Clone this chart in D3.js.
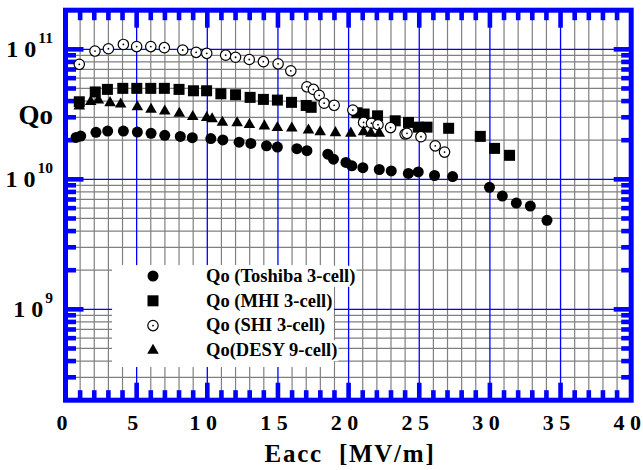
<!DOCTYPE html>
<html>
<head>
<meta charset="utf-8">
<script src="https://cdn.jsdelivr.net/npm/d3@7"></script>
<style>
  body { margin: 0; background: #fff; }
  text { font-family: "Liberation Serif", "Times New Roman", serif; font-weight: bold; fill: #000; }
</style>
</head>
<body>
<svg id="chart" width="643" height="470"></svg>
<script>
// Qo vs Eacc, four cavity series
var toshibaE = [0.71, 1.04, 2.12, 2.95, 4.06, 5.05, 6.02, 6.99, 8.09, 8.94, 10.25, 11.1, 12.25, 13.08, 14.19, 14.96, 16.34, 17.05, 18.53, 18.93, 19.81, 20.23, 21.01, 22.17, 23.02, 24.23, 24.93, 26.08, 27.36, 29.97, 30.88, 31.87, 32.86, 34.04]
var toshibaQ = [2.10e10, 2.15e10, 2.30e10, 2.35e10, 2.35e10, 2.31e10, 2.26e10, 2.18e10, 2.14e10, 2.09e10, 2.06e10, 2.01e10, 1.93e10, 1.89e10, 1.81e10, 1.77e10, 1.72e10, 1.66e10, 1.56e10, 1.43e10, 1.35e10, 1.27e10, 1.23e10, 1.19e10, 1.16e10, 1.11e10, 1.14e10, 1.07e10, 1.05e10, 8.68e9, 7.44e9, 6.57e9, 6.23e9, 4.84e9]

var mhiE = [0.94, 2.07, 2.93, 4.02, 5.01, 6.0, 6.96, 8.0, 9.02, 9.95, 10.96, 12.0, 13.03, 13.97, 14.96, 15.96, 17.0, 17.35, 20.59, 21.1, 22.05, 23.3, 24.24, 24.93, 25.55, 27.08, 29.32, 30.33, 31.39]
var mhiQ = [3.95e10, 4.70e10, 4.92e10, 5.01e10, 5.01e10, 5.01e10, 5.01e10, 4.92e10, 4.80e10, 4.80e10, 4.55e10, 4.47e10, 4.27e10, 4.12e10, 4.07e10, 3.91e10, 3.70e10, 3.58e10, 3.25e10, 3.18e10, 3.08e10, 2.82e10, 2.74e10, 2.52e10, 2.52e10, 2.47e10, 2.14e10, 1.73e10, 1.53e10]

var shiE = [0.94, 2.05, 3.0, 4.06, 5.0, 6.0, 6.96, 8.26, 9.21, 9.96, 11.3, 12.0, 12.97, 13.97, 15.01, 15.91, 17.05, 17.51, 17.92, 18.27, 18.98, 20.3, 21.06, 21.62, 22.08, 22.97, 24.0, 24.13, 25.12, 26.13, 26.79]
var shiQ = [7.67e10, 9.70e10, 1.01e11, 1.09e11, 1.05e11, 1.05e11, 1.03e11, 9.88e10, 9.48e10, 9.31e10, 9.01e10, 8.69e10, 8.35e10, 8.04e10, 7.74e10, 6.84e10, 5.15e10, 4.92e10, 4.43e10, 3.85e10, 3.71e10, 3.41e10, 2.74e10, 2.70e10, 2.63e10, 2.50e10, 2.23e10, 2.26e10, 2.13e10, 1.81e10, 1.62e10]

var desyE = [0.94, 1.75, 2.29, 3.12, 3.87, 5.05, 6.02, 6.99, 8.02, 8.97, 9.96, 10.34, 11.07, 12.11, 12.98, 14.04, 14.96, 15.98, 17.16, 17.99, 19.07, 20.16, 21.06, 21.58, 22.17]
var desyQ = [3.66e10, 3.95e10, 4.07e10, 3.88e10, 3.79e10, 3.61e10, 3.45e10, 3.35e10, 3.22e10, 3.03e10, 2.98e10, 2.91e10, 2.74e10, 2.72e10, 2.63e10, 2.57e10, 2.50e10, 2.47e10, 2.39e10, 2.32e10, 2.28e10, 2.26e10, 2.32e10, 2.26e10, 2.26e10]

var legendNames = ['Qo (Toshiba 3-cell)', 'Qo (MHI 3-cell)', 'Qo (SHI 3-cell)', 'Qo(DESY 9-cell)']
var xTickValues = [0, 5, 10, 15, 20, 25, 30, 35, 40]
var xTickLabels = ['0', '5', '1 0', '1 5', '2 0', '2 5', '3 0', '3 5', '4 0']
var yDecades = [1e9, 1e10, 1e11]
var yExponents = ['9', '10', '11']

var blue = '#0000ff'
var grey = '#808080'

var svg = d3.select('#chart')

var x = d3.scaleLinear().domain([0, 40]).range([66, 631.2])
var y = d3.scaleLog().domain([2e8, 2e11]).range([400.2, 10.2])

var pLeft = x.range()[0], pRight = x.range()[1]
var pTop = y.range()[1], pBottom = y.range()[0]

// minor / major tick values
var xMinor = d3.range(1, 40).filter(v => v % 5 !== 0)
var xMajor = d3.range(5, 40, 5)
var yMinor = []
;[8, 9, 10, 11].forEach(p => {
  d3.range(2, 10).forEach(m => {
    var v = m * Math.pow(10, p)
    if (v > 2e8 && v < 2e11) yMinor.push(v)
  })
})

// grid
var grid = svg.append('g')
grid.selectAll('.vmin').data(xMinor).enter().append('line')
  .attr('x1', d => x(d)).attr('x2', d => x(d)).attr('y1', pTop).attr('y2', pBottom)
  .attr('stroke', grey).attr('stroke-width', 1.2)
grid.selectAll('.hmin').data(yMinor).enter().append('line')
  .attr('y1', d => y(d)).attr('y2', d => y(d)).attr('x1', pLeft).attr('x2', pRight)
  .attr('stroke', grey).attr('stroke-width', 1.2)
grid.selectAll('.vmaj').data(xMajor).enter().append('line')
  .attr('x1', d => x(d)).attr('x2', d => x(d)).attr('y1', pTop).attr('y2', pBottom)
  .attr('stroke', blue).attr('stroke-width', 1.3)
grid.selectAll('.hmaj').data(yDecades).enter().append('line')
  .attr('y1', d => y(d)).attr('y2', d => y(d)).attr('x1', pLeft).attr('x2', pRight)
  .attr('stroke', blue).attr('stroke-width', 1.3)

// legend background
svg.append('rect')
  .attr('x', x(3.26)).attr('y', y(2.19e9))
  .attr('width', x(18.95) - x(3.26)).attr('height', y(3.6e8) - y(2.19e9))
  .attr('fill', '#fff')

// ticks on the frame
var ticks = svg.append('g').attr('stroke', blue).attr('stroke-width', 4.6)
var minorLen = 10, majorLen = 17.5
var xAll = d3.range(1, 40)
ticks.selectAll('.bt').data(xAll).enter().append('line')
  .attr('x1', d => x(d)).attr('x2', d => x(d))
  .attr('y1', pBottom).attr('y2', d => pBottom - (d % 5 === 0 ? majorLen : minorLen))
ticks.selectAll('.tt').data(xAll).enter().append('line')
  .attr('x1', d => x(d)).attr('x2', d => x(d))
  .attr('y1', pTop).attr('y2', d => pTop + (d % 5 === 0 ? majorLen : minorLen))
var yAll = yMinor.concat(yDecades)
var isMajor = d => yDecades.indexOf(d) >= 0
ticks.selectAll('.lt').data(yAll).enter().append('line')
  .attr('y1', d => y(d)).attr('y2', d => y(d))
  .attr('x1', pLeft).attr('x2', d => pLeft + (isMajor(d) ? majorLen : minorLen))
ticks.selectAll('.rt').data(yAll).enter().append('line')
  .attr('y1', d => y(d)).attr('y2', d => y(d))
  .attr('x1', pRight).attr('x2', d => pRight - (isMajor(d) ? majorLen : minorLen))

// frame
svg.append('rect')
  .attr('x', pLeft - 0.5).attr('y', pTop).attr('width', pRight - pLeft + 0.5).attr('height', pBottom - pTop)
  .attr('fill', 'none').attr('stroke', blue).attr('stroke-width', 5)

// x tick labels
svg.append('g').selectAll('text').data(xTickValues).enter().append('text')
  .attr('x', d => x(d) - 4).attr('y', 430)
  .attr('text-anchor', 'middle').attr('font-size', 22)
  .text((d, i) => xTickLabels[i])

// y tick labels 10^n
var yl = svg.append('g').selectAll('text').data(yDecades).enter().append('text')
  .attr('x', 53).attr('y', d => y(d) + 8)
  .attr('text-anchor', 'end').attr('font-size', 24)
yl.append('tspan').text('1 0')
yl.append('tspan').attr('dx', 2).attr('dy', -14).attr('font-size', 15.5).text((d, i) => yExponents[i])

// axis titles
svg.append('text').attr('x', 53).attr('y', 124).attr('text-anchor', 'end')
  .attr('font-size', 27).text('Qo')
svg.append('text').attr('x', 350).attr('y', 462).attr('text-anchor', 'middle')
  .attr('font-size', 25).attr('letter-spacing', 1.75)
  .style('white-space', 'pre').text('Eacc  [MV/m]')

// data marks
var r = 5.5
var tri = d3.symbol().type(d3.symbolTriangle).size(58)

var zip = (a, b) => a.map((v, i) => [v, b[i]])

function drawMark(g, kind, px, py) {
  if (kind === 0) {
    g.append('circle').attr('cx', px).attr('cy', py).attr('r', r).attr('fill', '#000')
  } else if (kind === 1) {
    g.append('rect').attr('x', px - 5.5).attr('y', py - 5.5).attr('width', 11).attr('height', 11).attr('fill', '#000')
  } else if (kind === 2) {
    g.append('circle').attr('cx', px).attr('cy', py).attr('r', r - 0.3).attr('fill', '#fff')
      .attr('stroke', '#000').attr('stroke-width', 1.2)
    g.append('circle').attr('cx', px).attr('cy', py).attr('r', 0.9).attr('fill', '#000')
  } else {
    g.append('path').attr('d', tri).attr('transform', `translate(${px},${py})`).attr('fill', '#000')
  }
}

var series = [zip(toshibaE, toshibaQ), zip(mhiE, mhiQ), zip(shiE, shiQ), zip(desyE, desyQ)]
var marks = svg.append('g')
series.forEach((pts, k) => {
  pts.forEach(p => drawMark(marks, k, x(p[0]), y(p[1])))
})

// legend
var legend = svg.append('g')
legendNames.forEach((name, i) => {
  var cy = 276 + i * 24.8
  var row = legend.append('g')
  var bg = row.append('rect').attr('fill', '#fff')
  var t = row.append('text').attr('x', 206).attr('y', cy + 5.8).attr('font-size', 18.5).text(name)
  var bb = t.node().getBBox()
  bg.attr('x', bb.x - 1).attr('y', bb.y).attr('width', bb.width + 2).attr('height', bb.height)
  drawMark(row, i, 153, cy)
})
</script>
</body>
</html>
